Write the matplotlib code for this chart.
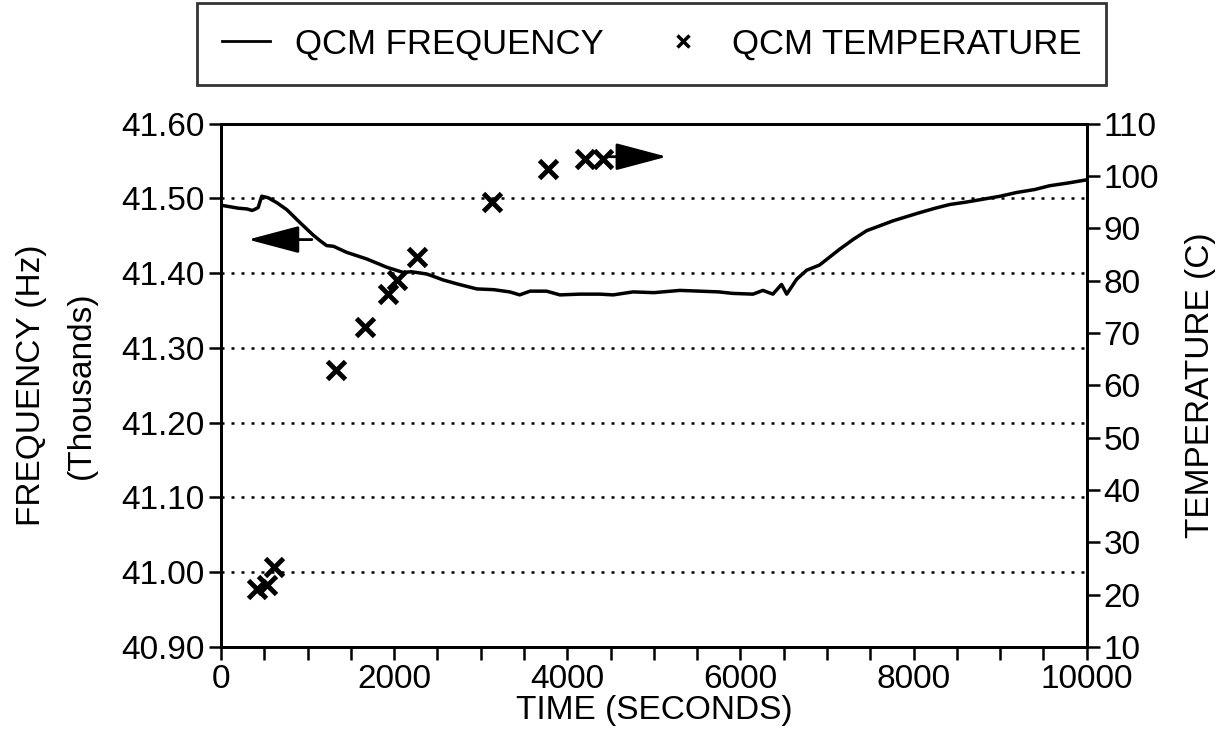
import matplotlib
matplotlib.use("Agg")
import matplotlib.pyplot as plt
from matplotlib.lines import Line2D
from matplotlib.ticker import MultipleLocator

plt.rcParams["font.family"] = ["Liberation Sans", "DejaVu Sans"]

# QCM frequency trace (kHz) against time (s)
time_s = [0, 100, 200, 300, 360, 400, 430, 470, 545, 650, 760, 910, 1065, 1150,
          1220, 1300, 1450, 1685, 1915, 2105, 2200, 2375, 2450, 2565, 2750, 2955,
          3150, 3335, 3450, 3570, 3760, 3915, 4145, 4375, 4530, 4760, 5000, 5300,
          5530, 5750, 5910, 6145, 6260, 6375, 6475, 6535, 6650, 6765, 6915, 7145,
          7300, 7460, 7600, 7760, 7900, 8070, 8250, 8420, 8600, 8800, 9000, 9190,
          9400, 9570, 9800, 10000]
freq_khz = [41.491, 41.489, 41.487, 41.486, 41.484, 41.486, 41.488, 41.503, 41.501,
            41.494, 41.485, 41.468, 41.451, 41.443, 41.437, 41.436, 41.428, 41.419,
            41.408, 41.401, 41.402, 41.399, 41.396, 41.391, 41.385, 41.379, 41.378,
            41.375, 41.371, 41.376, 41.376, 41.371, 41.372, 41.372, 41.371, 41.375,
            41.374, 41.377, 41.376, 41.375, 41.373, 41.372, 41.377, 41.372, 41.385,
            41.372, 41.392, 41.404, 41.411, 41.432, 41.445, 41.457, 41.463, 41.470,
            41.475, 41.481, 41.487, 41.492, 41.495, 41.499, 41.503, 41.508, 41.512,
            41.517, 41.521, 41.525]

# QCM temperature readings (C)
temp_time = [415, 530, 610, 1330, 1660, 1930, 2030, 2265, 3130, 3775, 4205, 4410]
temp_c = [21.1, 21.9, 25.3, 63.0, 71.2, 77.5, 80.2, 84.6, 95.1, 101.4, 103.3, 103.3]

freq_ticks = [40.9, 41.0, 41.1, 41.2, 41.3, 41.4, 41.5, 41.6]
temp_ticks = [10, 20, 30, 40, 50, 60, 70, 80, 90, 100, 110]
time_ticks = [0, 2000, 4000, 6000, 8000, 10000]

fs = 24

fig = plt.figure(figsize=(12.21, 7.41), dpi=100)
ax = fig.add_axes([0.181, 0.127, 0.709, 0.706])
ax2 = ax.twinx()

ax.plot(time_s, freq_khz, color="black", lw=2.5)
ax2.plot(temp_time, temp_c, ls="none", marker="x", ms=13, mew=3.5, color="black")

ax.set_xlim(0, 10000)
ax.set_ylim(40.9, 41.6)
ax2.set_ylim(10, 110)
ax.set_xticks(time_ticks)
ax.xaxis.set_minor_locator(MultipleLocator(500))
ax.set_yticks(freq_ticks)
ax.set_yticklabels([f"{v:.2f}" for v in freq_ticks])
ax2.set_yticks(temp_ticks)

for y in freq_ticks[1:-1]:
    ax.axhline(y, color="black", ls=(0, (1.2, 2.8)), lw=1.8, zorder=0)

for a in (ax, ax2):
    for s in a.spines.values():
        s.set_linewidth(2)
ax.tick_params(axis="both", which="both", direction="out", length=9, width=1.8,
               labelsize=fs, pad=3)
ax2.tick_params(axis="y", direction="out", length=9, width=1.8, labelsize=fs, pad=3)

ax.set_xlabel("TIME (SECONDS)", fontsize=fs, labelpad=0)
ax.set_ylabel("FREQUENCY (Hz)\n(Thousands)", fontsize=fs, labelpad=17, linespacing=1.8)
ax2.set_ylabel("TEMPERATURE (C)", fontsize=fs, labelpad=19)

# arrows telling which axis each series belongs to
head = "-|>,head_length=3.2,head_width=0.85"
ax.annotate("", xy=(312, 41.445), xytext=(1050, 41.445),
            arrowprops=dict(arrowstyle=head, mutation_scale=10, lw=2,
                            color="black", shrinkA=0, shrinkB=0))
ax2.annotate("", xy=(5150, 103.7), xytext=(4480, 103.7),
             arrowprops=dict(arrowstyle=head, mutation_scale=10, lw=2,
                             color="black", shrinkA=0, shrinkB=0))

handles = [Line2D([], [], color="black", lw=2),
           Line2D([], [], color="black", ls="none", marker="x", ms=8, mew=2.5)]
leg = fig.legend(handles, ["QCM FREQUENCY", "QCM TEMPERATURE"], ncol=2,
                 loc="upper center", bbox_to_anchor=(0.5336, 0.996),
                 borderaxespad=0, fontsize=25, frameon=True, fancybox=False,
                 edgecolor="black", handlelength=1.4, handletextpad=0.7,
                 columnspacing=1.6, borderpad=0.7)
leg.get_frame().set_linewidth(2)

fig.savefig("out.png", dpi=100)
